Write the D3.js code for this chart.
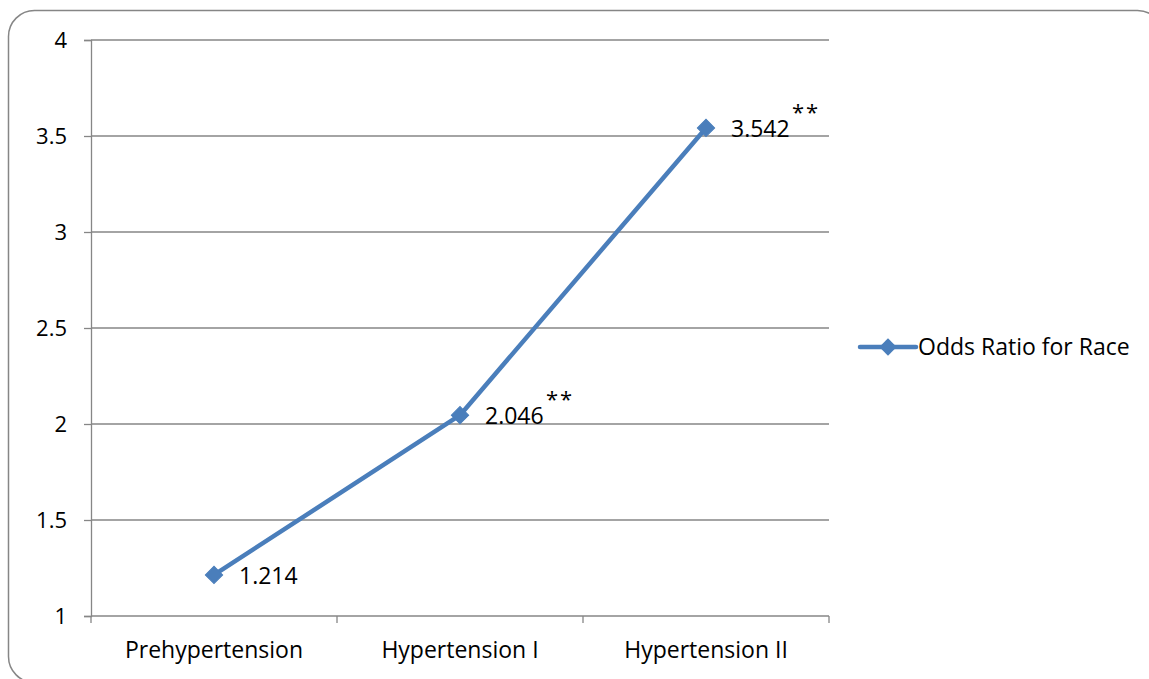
<!DOCTYPE html>
<html>
<head>
<meta charset="utf-8">
<script src="https://cdn.jsdelivr.net/npm/d3@7/dist/d3.min.js"></script>
<style>
  html, body { margin: 0; padding: 0; background: #fff; }
  svg { display: block; }
  text { font-family: "Open Sans", "Lato", sans-serif; fill: #000; }
</style>
</head>
<body>
<svg id="chart" width="1149" height="679"></svg>
<script>
// Odds ratio by blood pressure category
const categories = ["Prehypertension", "Hypertension I", "Hypertension II"];
const oddsRatios = [1.214, 2.046, 3.542];
const significance = ["", "**", "**"];
const yTicks = [1, 1.5, 2, 2.5, 3, 3.5, 4];
const seriesName = "Odds Ratio for Race";

const svg = d3.select("#chart");
const lineColor = "#4a7ebb";
const gridColor = "#868686";
const fontSize = "23px";

// outer frame with rounded corners
svg.append("rect")
  .attr("x", 8.5).attr("y", 10.5)
  .attr("width", 1155).attr("height", 672)
  .attr("rx", 26).attr("ry", 26)
  .attr("fill", "none").attr("stroke", "#868686").attr("stroke-width", 1.5);

const plot = { left: 91, right: 829, top: 40, bottom: 616 };

const x = d3.scaleBand().domain(categories).range([plot.left, plot.right]);
const y = d3.scaleLinear().domain([1, 4]).range([plot.bottom, plot.top]);

// horizontal gridlines
svg.append("g")
  .selectAll("line").data(yTicks.filter(t => t > 1)).join("line")
  .attr("x1", plot.left).attr("x2", plot.right)
  .attr("y1", d => y(d)).attr("y2", d => y(d))
  .attr("stroke", gridColor).attr("stroke-width", 1.3);

// y axis
const yAxis = svg.append("g")
  .attr("transform", `translate(${plot.left},0)`)
  .call(d3.axisLeft(y).tickValues(yTicks).tickSize(7).tickPadding(17)
    .tickFormat(d3.format("")));
yAxis.select(".domain").attr("stroke", gridColor).attr("stroke-width", 1.3);
yAxis.selectAll(".tick line").attr("stroke", gridColor).attr("stroke-width", 1.3);
yAxis.selectAll(".tick text").style("font-size", "22px").attr("fill", "#000")
  .style("font-family", "'Open Sans', sans-serif");

// x axis with ticks at band edges
const xAxisG = svg.append("g").attr("transform", `translate(0,${plot.bottom})`);
xAxisG.append("line")
  .attr("x1", plot.left).attr("x2", plot.right)
  .attr("stroke", gridColor).attr("stroke-width", 1.3);
const edges = categories.map(c => x(c)).concat([x(categories[categories.length - 1]) + x.bandwidth()]);
xAxisG.selectAll("line.edge").data(edges).join("line")
  .attr("class", "edge")
  .attr("x1", d => d).attr("x2", d => d)
  .attr("y1", 0).attr("y2", 7)
  .attr("stroke", gridColor).attr("stroke-width", 1.3);
xAxisG.selectAll("text").data(categories).join("text")
  .attr("x", d => x(d) + x.bandwidth() / 2)
  .attr("y", 42)
  .attr("text-anchor", "middle")
  .style("font-size", fontSize)
  .text(d => d);

// series line
const pts = categories.map((c, i) => ({ c, v: oddsRatios[i], s: significance[i] }));
const cx = d => x(d.c) + x.bandwidth() / 2;
svg.append("path")
  .datum(pts)
  .attr("d", d3.line().x(cx).y(d => y(d.v)))
  .attr("fill", "none").attr("stroke", lineColor)
  .attr("stroke-width", 4.5).attr("stroke-linejoin", "round").attr("stroke-linecap", "round");

const diamond = d3.symbol().type(d3.symbolSquare).size(150);
svg.selectAll("path.marker").data(pts).join("path")
  .attr("class", "marker")
  .attr("d", diamond)
  .attr("transform", d => `translate(${cx(d)},${y(d.v)}) rotate(45)`)
  .attr("fill", lineColor).attr("stroke", lineColor).attr("stroke-width", 1);

// value labels with significance marks
const labels = svg.selectAll("g.lbl").data(pts).join("g").attr("class", "lbl");
labels.append("text")
  .attr("x", d => cx(d) + 25)
  .attr("y", d => y(d.v) + 9)
  .style("font-size", fontSize)
  .text(d => d3.format(".3f")(d.v));
labels.append("text")
  .attr("x", d => cx(d) + 86)
  .attr("y", d => y(d.v) - 8)
  .style("font-size", "22px")
  .attr("letter-spacing", "2px")
  .text(d => d.s);

// legend
const lg = svg.append("g").attr("transform", "translate(860,347)");
lg.append("line").attr("x1", 0).attr("x2", 56)
  .attr("stroke", lineColor).attr("stroke-width", 4.5).attr("stroke-linecap", "round");
lg.append("path").attr("d", diamond).attr("transform", "translate(28,0) rotate(45)")
  .attr("fill", lineColor);
lg.append("text").attr("x", 58).attr("y", 8).style("font-size", fontSize).text(seriesName);
</script>
</body>
</html>
